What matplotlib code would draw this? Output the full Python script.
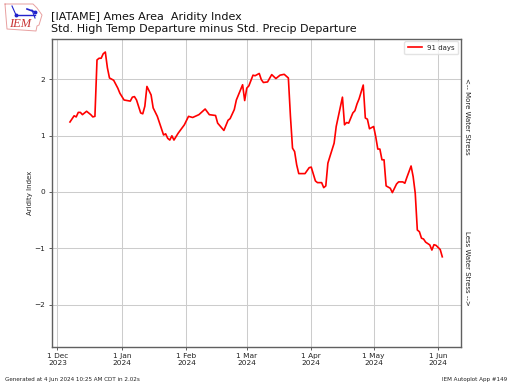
import numpy as np
import pandas as pd
import matplotlib
matplotlib.use('Agg')
import matplotlib.pyplot as plt
import matplotlib.dates as mdates

# days since 1 Dec 2023
days = [6, 8, 9, 10, 11, 12, 14, 16, 17, 18, 19, 20, 21, 22, 23, 24, 25, 27, 29, 30, 32,
        35, 36, 37, 38, 40, 41, 42, 43, 45, 46, 48, 51, 52, 53, 54, 55, 56, 58, 61, 63,
        65, 68, 71, 73, 76, 77, 80, 82, 83, 85, 86, 89, 90, 91, 92, 94, 95, 97, 98, 99,
        101, 103, 105, 107, 109, 111, 112, 113, 114, 115, 116, 119, 121, 122, 124, 125,
        127, 128, 129, 130, 131, 133, 134, 137, 138, 139, 140, 142, 143, 144, 145, 147,
        148, 149, 150, 152, 153, 154, 155, 156, 157, 158, 160, 161, 163, 164, 166, 167,
        168, 170, 171, 172, 173, 174, 175, 176, 177, 179, 180, 181, 182, 184, 185]
values = [1.24, 1.35, 1.33, 1.41, 1.41, 1.37, 1.43, 1.37, 1.33, 1.34, 2.34, 2.37, 2.37,
          2.45, 2.48, 2.2, 2.02, 1.98, 1.84, 1.75, 1.63, 1.61, 1.68, 1.69, 1.63, 1.4,
          1.385, 1.52, 1.87, 1.72, 1.49, 1.34, 1.01, 1.03, 0.95, 0.92, 0.995, 0.92, 1.04,
          1.19, 1.34, 1.32, 1.37, 1.47, 1.37, 1.355, 1.22, 1.09, 1.27, 1.3, 1.46, 1.63,
          1.9, 1.62, 1.84, 1.88, 2.07, 2.06, 2.1, 1.99, 1.94, 1.95, 2.08, 2.01, 2.07,
          2.085, 2.02, 1.34, 0.776, 0.716, 0.48, 0.325, 0.325, 0.43, 0.44, 0.195, 0.165,
          0.165, 0.076, 0.107, 0.51, 0.63, 0.865, 1.16, 1.68, 1.19, 1.23, 1.22, 1.4, 1.44,
          1.56, 1.65, 1.895, 1.31, 1.29, 1.12, 1.16, 0.98, 0.76, 0.76, 0.57, 0.57, 0.107,
          0.065, -0.012, 0.14, 0.178, 0.178, 0.154, 0.26, 0.46, 0.27, -0.024, -0.675,
          -0.705, -0.82, -0.835, -0.89, -0.94, -1.03, -0.935, -0.947, -1.02, -1.15]
tick_dates = ['2023-12-01', '2024-01-01', '2024-02-01', '2024-03-01', '2024-04-01', '2024-05-01', '2024-06-01']

dates = pd.Timestamp('2023-12-01') + pd.to_timedelta(days, unit='D')

W, H = 512, 384
fig = plt.figure(figsize=(5.12, 3.84), dpi=100)
ax = fig.add_axes([51.5 / W, 1 - 346.5 / H, 409.5 / W, 308 / H])

ax.plot(dates, values, color='r', lw=1.2, label='91 days')
ax.set_xlim(pd.Timestamp('2023-11-28 03:00'), pd.Timestamp('2024-06-12 00:00'))
ax.set_ylim(-2.74, 2.72)
ax.set_yticks([-2, -1, 0, 1, 2])
ax.set_xticks(pd.to_datetime(tick_dates))
ax.xaxis.set_major_formatter(mdates.DateFormatter('%-d %b\n%Y'))
ax.grid(True, color='#cccccc', lw=0.75)
ax.set_axisbelow(True)
ax.tick_params(labelsize=5.3, length=2.5, width=0.6, color='#444444', labelcolor='#222222', pad=2)
ax.set_ylabel('Aridity Index', fontsize=5.0, labelpad=1, color='#222222')
for s in ax.spines.values():
    s.set_color('#606060')
    s.set_linewidth(1.0)
ax.legend(loc='upper right', fontsize=5.0, borderpad=0.5, handlelength=2.0, framealpha=0.8,
          edgecolor='#dddddd', borderaxespad=0.4, labelcolor='#222222')

fig.text(51 / W, 1 - 17 / H, '[IATAME] Ames Area  Aridity Index', fontsize=8.0, va='center', color='#111111')
fig.text(51 / W, 1 - 29.5 / H, 'Std. High Temp Departure minus Std. Precip Departure', fontsize=8.0, va='center', color='#111111')
fig.text(467 / W, 1 - 116 / H, '<-- More Water Stress', rotation=-90, fontsize=5.0, ha='center', va='center', color='#222222')
fig.text(467 / W, 1 - 268 / H, 'Less Water Stress -->', rotation=-90, fontsize=5.0, ha='center', va='center', color='#222222')
fig.text(5 / W, 1 - 379 / H, 'Generated at 4 Jun 2024 10:25 AM CDT in 2.02s', fontsize=4.1, va='center', color='#222222')
fig.text(507 / W, 1 - 379 / H, 'IEM Autoplot App #149', fontsize=4.1, ha='right', va='center', color='#222222')

# logo, drawn in pixel coordinates
logo = fig.add_axes([0, 1 - 36 / H, 46 / W, 36 / H])
logo.set_xlim(0, 46)
logo.set_ylim(36, 0)
logo.axis('off')
logo.plot([5, 33, 37, 42, 39, 37, 36, 7, 6, 5],
          [4, 4, 8, 15, 25, 26, 31, 29, 17, 4], color='#e8a0a0', lw=0.7)
logo.plot([16, 35], [15, 15], color='#2222cc', lw=1.0)
logo.plot([12, 16], [6, 15], color='#2222cc', lw=0.8)
logo.plot([27, 35], [9, 12], color='#2222cc', lw=1.2)
logo.plot([32, 35], [10, 18], color='#2222cc', lw=0.8)
logo.plot([16, 35], [15, 12], 'o', color='#2222cc', ms=1.8)
logo.text(20, 24, 'IEM', family='Liberation Serif', style='italic', fontsize=9, color='#c83232', ha='center', va='center')

fig.savefig('out.png', dpi=100)
